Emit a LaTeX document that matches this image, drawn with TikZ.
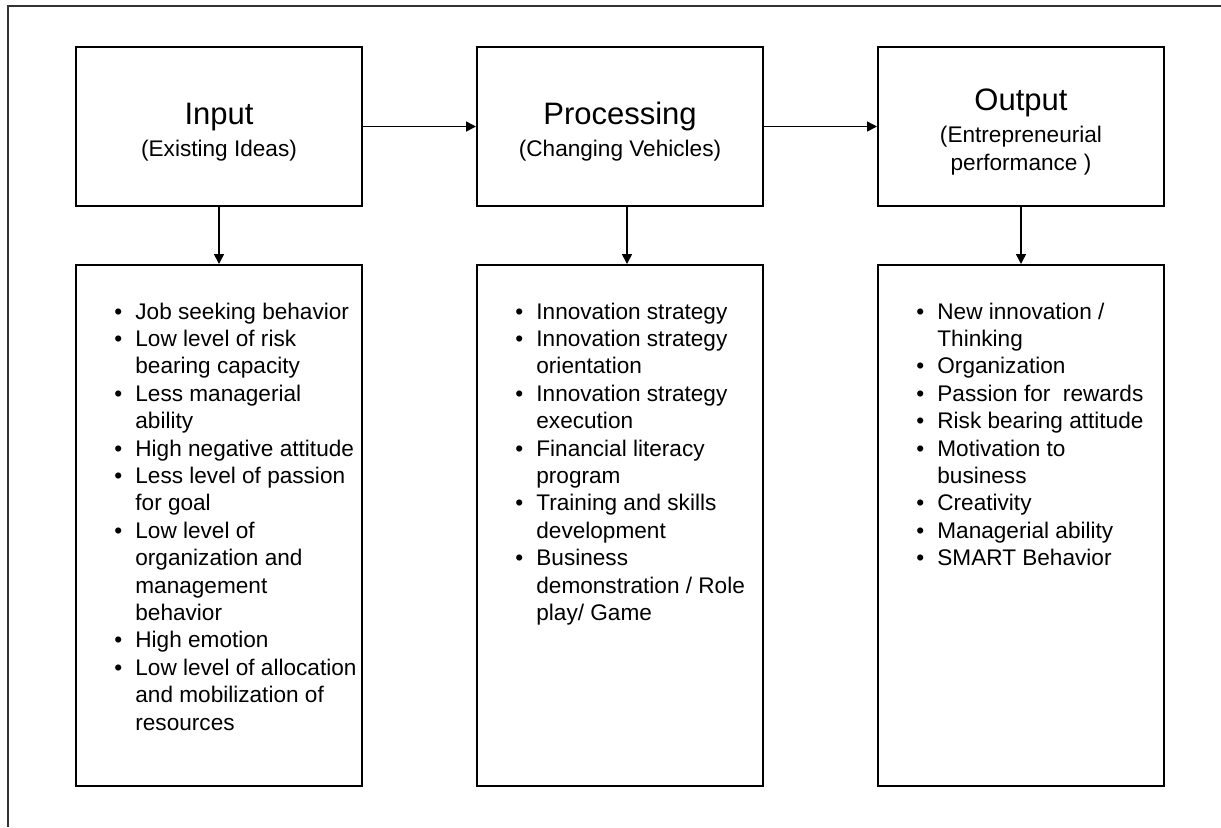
\documentclass[tikz,border=0pt]{standalone}
\usepackage{fontspec}
\setmainfont{Liberation Sans}
\usetikzlibrary{positioning,arrows.meta}

\newcommand\headfont{\fontsize{15.5}{18}\selectfont\rule{0pt}{16.5pt}}
\newcommand\subfont{\fontsize{11.3}{14}\selectfont}

\tikzset{
  headbox/.style={draw, line width=1pt, minimum width=143pt, minimum height=79.5pt,
    align=center, inner sep=0pt, font=\subfont},
  listbox/.style={draw, line width=1pt, minimum width=143pt, minimum height=260.5pt,
    inner sep=0pt},
  items/.style={inner sep=0pt, anchor=base west, font=\fontsize{11.3}{13.7}\selectfont},
  flow/.style={-{Triangle[length=5pt,width=5pt]}, line width=0.8pt},
}

\begin{document}
\begin{tikzpicture}[x=0.5pt,y=-0.5pt]
  \useasboundingbox (0,0) rectangle (1221,827);
  % frame
  \draw[line width=0.75pt, black!80] (8,827) -- (8,6) -- (1221,6);

  % top row
  \node[headbox] (inp) at (219,126.5) {{\headfont Input}\\[2pt](Existing Ideas)};
  \node[headbox, right=56.5pt of inp] (proc) {{\headfont Processing}\\[2pt](Changing Vehicles)};
  \node[headbox, right=56.5pt of proc] (out) {{\headfont Output}\\[2pt](Entrepreneurial\\performance )};

  % bottom row
  \node[listbox, below=28.5pt of inp] (inl) {};
  \node[listbox, below=28.5pt of proc] (procl) {};
  \node[listbox, below=28.5pt of out] (outl) {};

  \node[items] (inpitems) at ([shift={(39,55)}]inl.north west) {%
    \begin{tabular}[t]{@{}p{10.5pt}@{}l@{}}
      \textbullet & Job seeking behavior\\
      \textbullet & Low level of risk\\
                  & bearing capacity\\
      \textbullet & Less managerial\\
                  & ability\\
      \textbullet & High negative attitude\\
      \textbullet & Less level of passion\\
                  & for goal\\
      \textbullet & Low level of\\
                  & organization and\\
                  & management\\
                  & behavior\\
      \textbullet & High emotion\\
      \textbullet & Low level of allocation\\
                  & and mobilization of\\
                  & resources
    \end{tabular}};
  \node[items] (procitems) at ([shift={(39,55)}]procl.north west) {%
    \begin{tabular}[t]{@{}p{10.5pt}@{}l@{}}
      \textbullet & Innovation strategy\\
      \textbullet & Innovation strategy\\
                  & orientation\\
      \textbullet & Innovation strategy\\
                  & execution\\
      \textbullet & Financial literacy\\
                  & program\\
      \textbullet & Training and skills\\
                  & development\\
      \textbullet & Business\\
                  & demonstration / Role\\
                  & play/ Game
    \end{tabular}};
  \node[items] (outitems) at ([shift={(39,55)}]outl.north west) {%
    \begin{tabular}[t]{@{}p{10.5pt}@{}l@{}}
      \textbullet & New innovation /\\
                  & Thinking\\
      \textbullet & Organization\\
      \textbullet & Passion for\ \ rewards\\
      \textbullet & Risk bearing attitude\\
      \textbullet & Motivation to\\
                  & business\\
      \textbullet & Creativity\\
      \textbullet & Managerial ability\\
      \textbullet & SMART Behavior
    \end{tabular}};

  % connectors
  \draw[flow] (inp) -- (proc);
  \draw[flow] (proc) -- (out);
  \draw[flow] (inp) -- (inl);
  \draw[flow] ([xshift=3.5pt]proc.south) -- ([xshift=3.5pt]procl.north);
  \draw[flow] (out) -- (outl);
\end{tikzpicture}
\end{document}
